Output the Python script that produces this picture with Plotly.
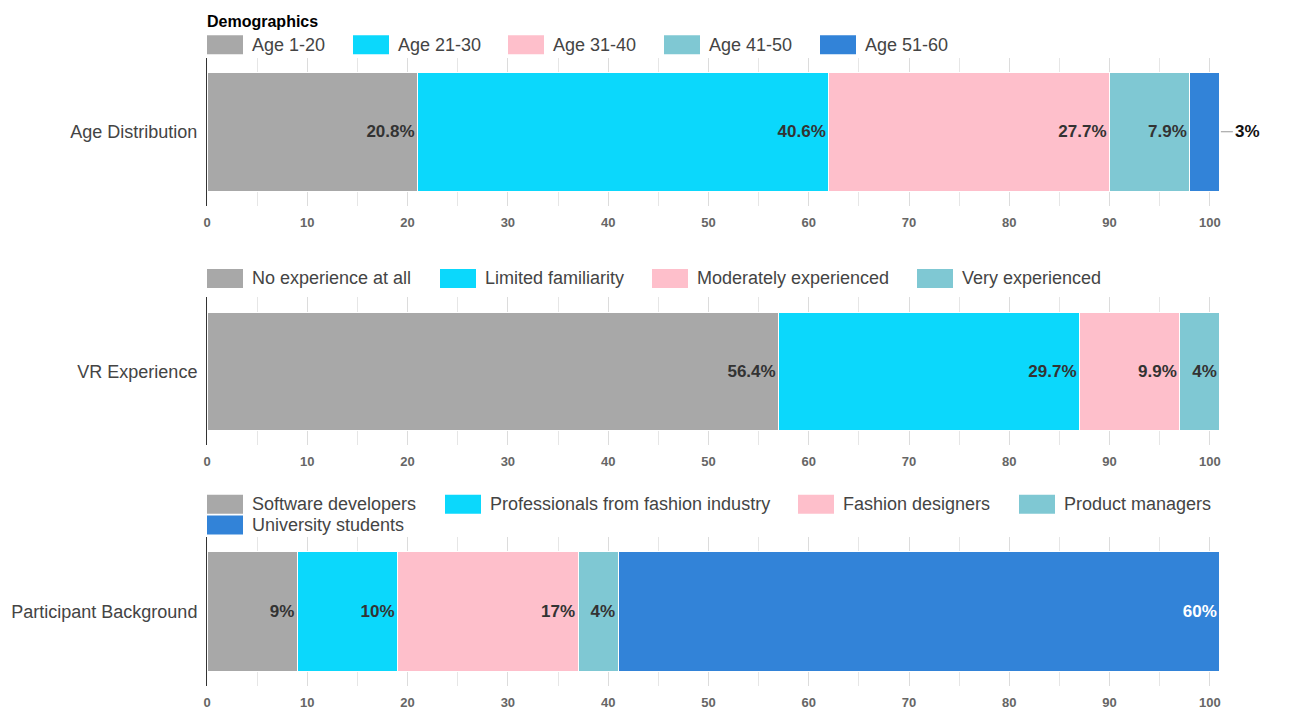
import plotly.graph_objects as go

# ---------------- data ----------------
categories = ["Age Distribution", "VR Experience", "Participant Background"]

age_labels = ["Age 1-20", "Age 21-30", "Age 31-40", "Age 41-50", "Age 51-60"]
age_bar = [21, 41, 28, 8, 3]
age_pct = [20.8, 40.6, 27.7, 7.9, 3]

vr_labels = ["No experience at all", "Limited familiarity", "Moderately experienced", "Very experienced"]
vr_bar = [57, 30, 10, 4]
vr_pct = [56.4, 29.7, 9.9, 4]

bg_labels = ["Software developers", "Professionals from fashion industry", "Fashion designers",
             "Product managers", "University students"]
bg_bar = [9, 10, 18, 4, 60]
bg_pct = [9, 10, 17, 4, 60]

x_ticks = [0, 10, 20, 30, 40, 50, 60, 70, 80, 90, 100]

# ---------------- style ----------------
colors = ["#A8A8A8", "#0BD8FC", "#FEBFCB", "#7FC8D3", "#3283D8"]
text_colors = ["#333333", "#333333", "#333333", "#333333", "#FFFFFF"]
FONT = "Liberation Sans, Arial, sans-serif"
W, H = 1310, 710
L_M, R_M = 207, 50

# y domains in pixel rows (top, bottom)
panel_px = [(58, 207), (299, 448), (540, 690)]
# legend layout: rows of (center y px, [swatch left px ...])
legend_layout = [
    [(45, [207, 353, 508, 664, 820])],
    [(280, [207, 440, 652, 917])],
    [(507, [207, 445, 798, 1019]), (528, [207])],
]

groups = [(age_labels, age_bar, age_pct), (vr_labels, vr_bar, vr_pct), (bg_labels, bg_bar, bg_pct)]

fig = go.Figure()
shapes = []
annotations = []

for gi, (labels, bars, pcts) in enumerate(groups):
    xa = "x" if gi == 0 else f"x{gi+1}"
    ya = "y" if gi == 0 else f"y{gi+1}"
    cat = categories[gi]
    total = sum(bars)
    for i, (lab, b, p) in enumerate(zip(labels, bars, pcts)):
        is_outside = (gi == 0 and i == len(labels) - 1)
        fig.add_trace(go.Bar(
            x=[b], y=[cat], orientation="h", name=lab,
            xaxis=xa, yaxis=ya,
            marker=dict(color=colors[i], line=dict(color="#FFFFFF", width=1)),
            text=[""] if is_outside else [f"{p:g}%"],
            textposition="inside", insidetextanchor="end",
            insidetextfont=dict(family=FONT, size=17, color=text_colors[i], weight="bold"),
            textangle=0,
            showlegend=False, hoverinfo="skip",
        ))
        if is_outside:
            annotations.append(dict(
                x=total, y=cat, xref=xa, yref=ya,
                text=f"<b>{p:g}%</b>", showarrow=True, ax=13, ay=0,
                xanchor="left", arrowhead=0, arrowwidth=1, arrowcolor="#999999",
                standoff=1, font=dict(family=FONT, size=17, color="#111111"),
            ))

    top, bot = panel_px[gi]
    dom = [1 - bot / H, 1 - top / H]
    suffix = "" if gi == 0 else str(gi + 1)
    fig.update_layout(**{
        f"xaxis{suffix}": dict(
            domain=[0, 1], anchor=ya, range=[0, 105],
            tickvals=x_ticks, ticktext=[str(t) for t in x_ticks],
            showgrid=True, gridcolor="#DCDCDC", gridwidth=1,
            minor=dict(dtick=5, showgrid=True, gridcolor="#E6E6E6", gridwidth=1),
            zeroline=False, showline=False, ticks="",
            tickfont=dict(family=FONT, size=13, color="#666666", weight="bold"),
            ticklabelstandoff=7, fixedrange=True,
        ),
        f"yaxis{suffix}": dict(
            domain=dom, anchor=xa, showline=True, linecolor="#333333", linewidth=1,
            ticks="", showgrid=False, zeroline=False,
            tickfont=dict(family=FONT, size=18, color="#444444"),
            ticklabelstandoff=5, fixedrange=True,
        ),
    })

    # custom legend
    li = 0
    for cy, lefts in legend_layout[gi]:
        for lx in lefts:
            yp = 1 - cy / H
            shapes.append(dict(
                type="rect", xref="paper", yref="paper",
                xsizemode="pixel", ysizemode="pixel", xanchor=0, yanchor=yp,
                x0=lx - L_M, x1=lx - L_M + 36, y0=-9.5, y1=9.5,
                fillcolor=colors[li], line=dict(width=0), layer="above",
            ))
            annotations.append(dict(
                x=0, y=yp, xref="paper", yref="paper", xshift=lx - L_M + 43,
                xanchor="left", yanchor="middle", showarrow=False,
                text=labels[li], font=dict(family=FONT, size=18, color="#444444"),
            ))
            li += 1

annotations.append(dict(
    x=0, y=1 - 22 / H, xref="paper", yref="paper", xanchor="left", yanchor="middle",
    showarrow=False, text="<b>Demographics</b>", xshift=-2,
    font=dict(family=FONT, size=16, color="#000000"),
))

fig.update_layout(
    width=W, height=H, barmode="stack", bargap=0.2,
    margin=dict(l=L_M, r=R_M, t=0, b=0),
    paper_bgcolor="#FFFFFF", plot_bgcolor="#FFFFFF",
    shapes=shapes, annotations=annotations, showlegend=False,
    font=dict(family=FONT),
)

fig.write_html("out.html", config={"displayModeBar": False})
